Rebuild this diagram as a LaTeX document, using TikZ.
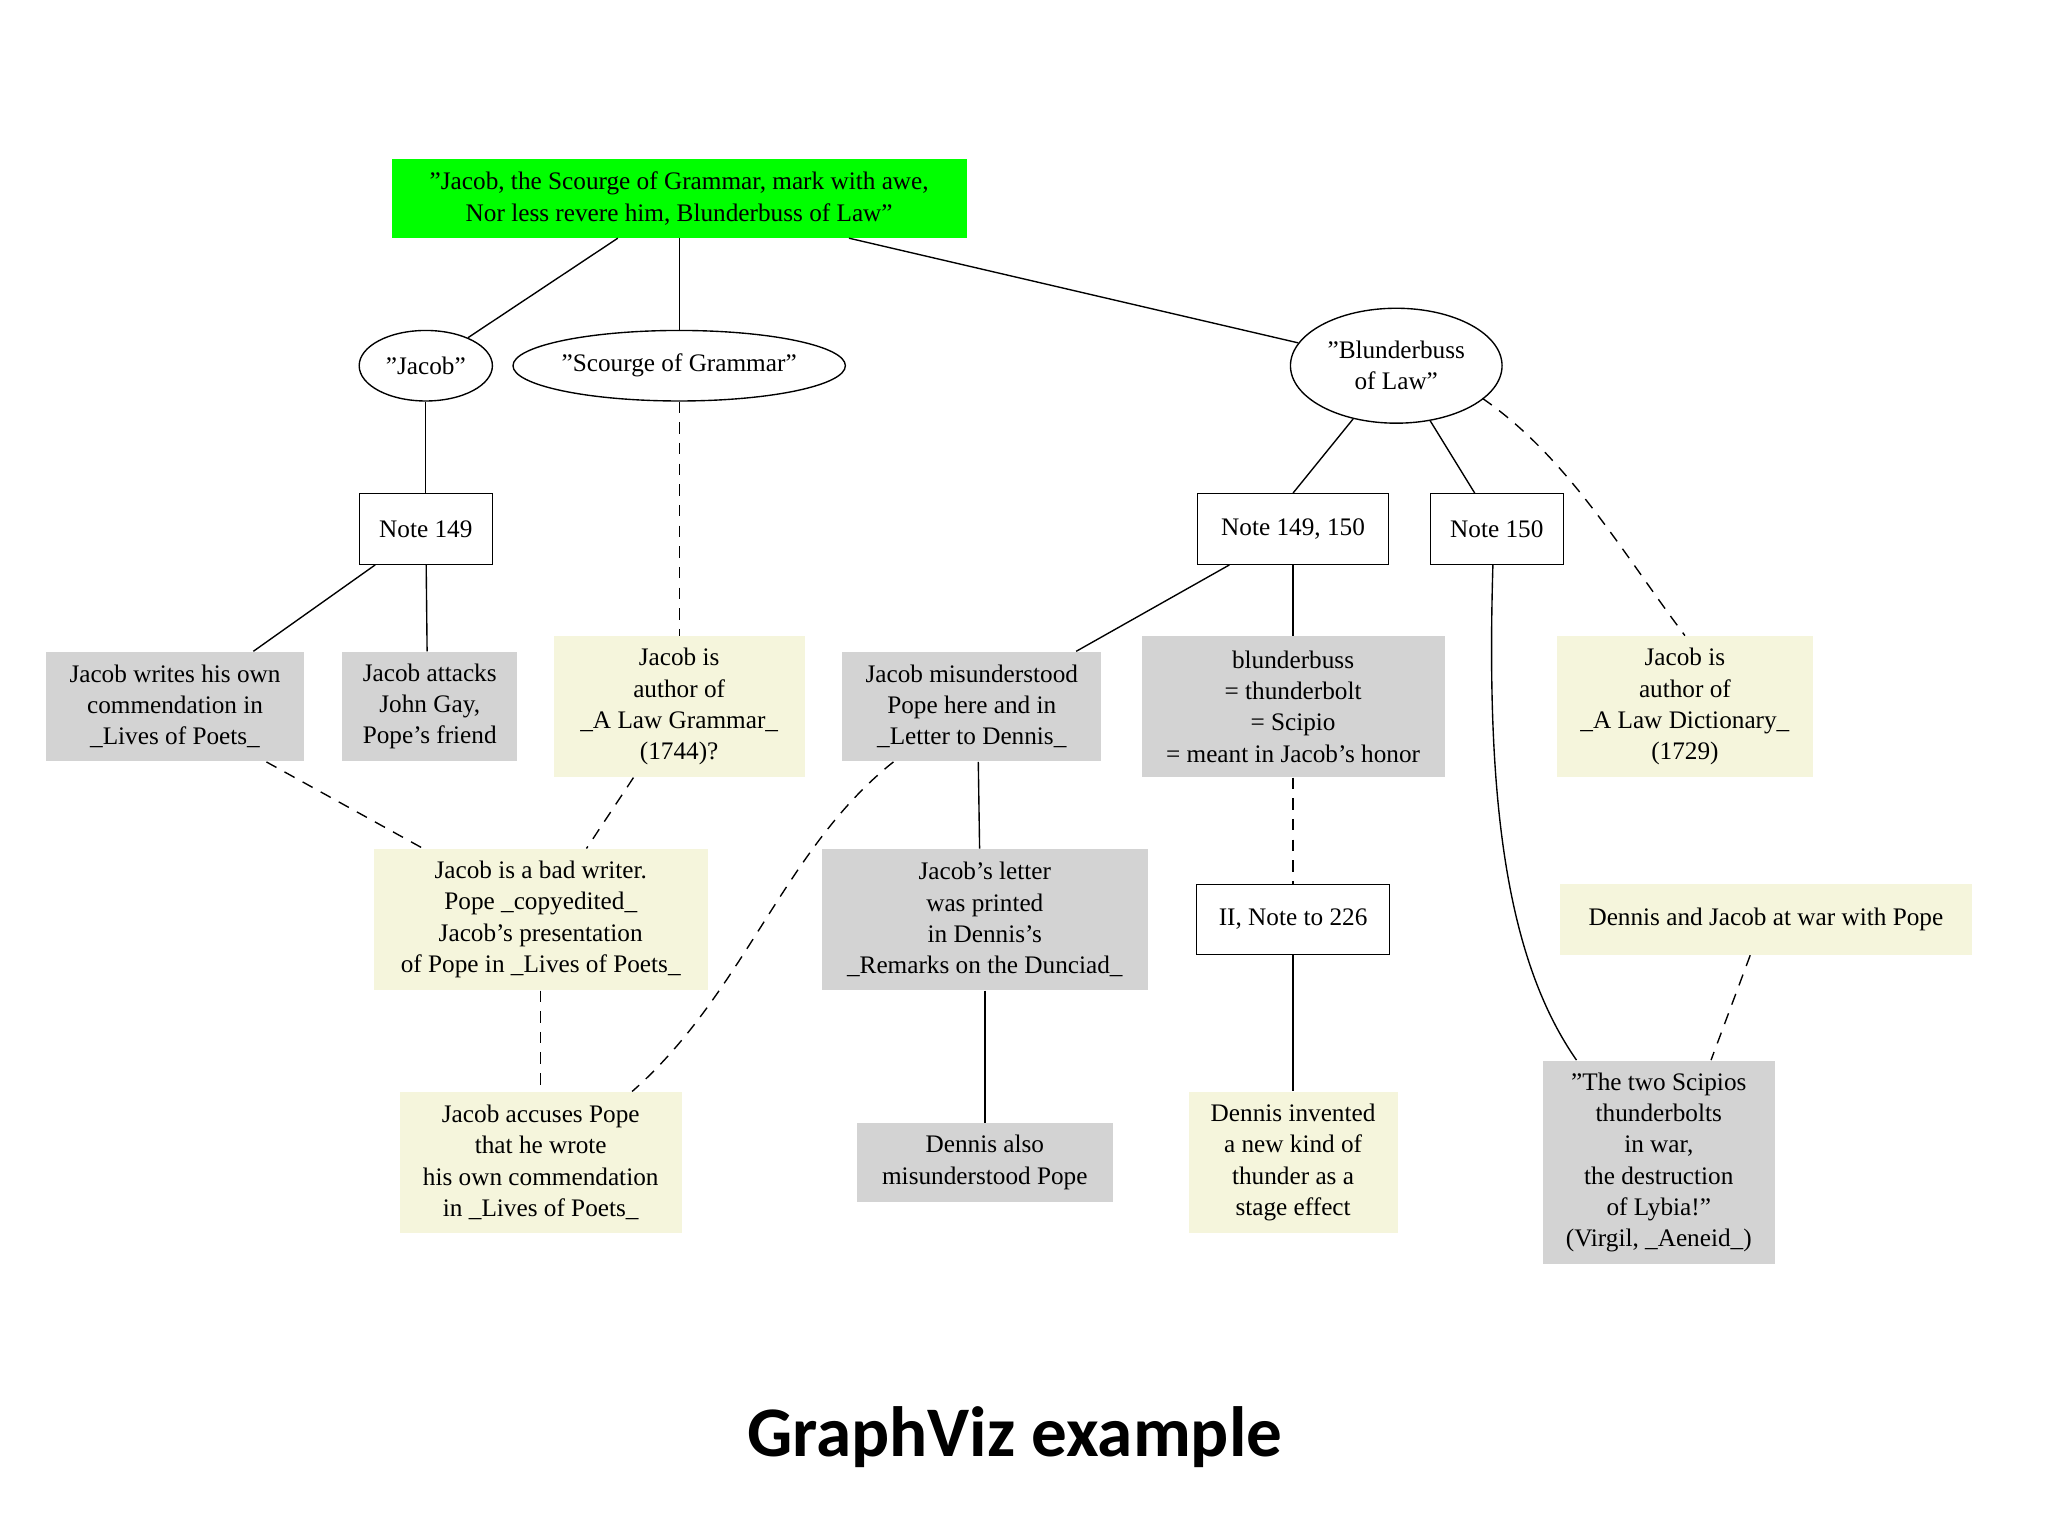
\documentclass[tikz,border=0pt]{standalone}
\usepackage{fontspec}
\setmainfont{Liberation Serif}
\newfontfamily\titlefont{Carlito}
\usetikzlibrary{shapes.geometric}
\definecolor{gvyel}{HTML}{F5F5DC}
\definecolor{gvgray}{HTML}{D3D3D3}
\tikzset{
 every node/.style={font=\fontsize{11}{13.6}\selectfont, align=center, inner sep=0pt},
 box/.style={rectangle, draw=black, line width=0.6pt, fill=white},
 yel/.style={rectangle, fill=gvyel},
 gry/.style={rectangle, fill=gvgray},
 ell/.style={ellipse, draw=black, line width=0.6pt},
 e/.style={line width=0.6pt},
 d/.style={line width=0.6pt, dashed, dash pattern=on 5pt off 4pt},
 sz/.style 2 args={minimum width=#1*0.02cm, minimum height=#2*0.02cm},
}
\begin{document}
\begin{tikzpicture}[x=0.02cm,y=-0.02cm]
\useasboundingbox (0,0) rectangle (1568,1176);
\fill[white] (0,0) rectangle (1568,1176);
\node[rectangle, fill=green, sz={440}{60}] (top) at (520,152) {"Jacob, the Scourge of Grammar, mark with awe,\\Nor less revere him, Blunderbuss of Law"};
\node[ell, sz={102}{54}] (jacob) at (326,280) {"Jacob"};
\node[ell, sz={234}{54}] (scourge) at (520,280) {"Scourge of Grammar"};
\node[ell, sz={162}{88}] (blunder) at (1069,280) {"Blunderbuss\\of Law"};
\node[box, sz={102}{54}] (n149) at (326,405) {Note 149};
\node[box, sz={146}{54}] (n149150) at (990,405) {Note 149, 150};
\node[box, sz={102}{54}] (n150) at (1146,405) {Note 150};
\node[gry, sz={198}{84}] (jwrites) at (134,541) {Jacob writes his own\\commendation in\\\_Lives of Poets\_};
\node[gry, sz={134}{84}] (jattacks) at (329,541) {Jacob attacks\\John Gay,\\Pope's friend};
\node[yel, sz={192}{108}] (ja1) at (520,541) {Jacob is\\author of\\\_A Law Grammar\_\\(1744)?};
\node[gry, sz={198}{84}] (jmis) at (744,541) {Jacob misunderstood\\Pope here and in\\\_Letter to Dennis\_};
\node[gry, sz={232}{108}] (bb) at (990,541) {blunderbuss\\= thunderbolt\\= Scipio\\= meant in Jacob's honor};
\node[yel, sz={196}{108}] (ja2) at (1290,541) {Jacob is\\author of\\\_A Law Dictionary\_\\(1729)};
\node[yel, sz={256}{108}] (bad) at (414,704) {Jacob is a bad writer.\\Pope \_copyedited\_\\Jacob's presentation\\of Pope in \_Lives of Poets\_};
\node[gry, sz={250}{108}] (jlet) at (754,704) {Jacob's letter\\was printed\\in Dennis's\\\_Remarks on the Dunciad\_};
\node[box, sz={148}{54}] (n226) at (990,704) {II, Note to 226};
\node[yel, sz={316}{54}] (dj) at (1352,704) {Dennis and Jacob at war with Pope};
\node[yel, sz={216}{108}] (jacc) at (414,890) {Jacob accuses Pope\\that he wrote\\his own commendation\\in \_Lives of Poets\_};
\node[gry, sz={196}{60}] (dalso) at (754,890) {Dennis also\\misunderstood Pope};
\node[yel, sz={160}{108}] (dinv) at (990,890) {Dennis invented\\a new kind of\\thunder as a\\stage effect};
\node[gry, sz={178}{156}] (sc) at (1270,890) {"The two Scipios\\thunderbolts\\in war,\\the destruction\\of Lybia!"\\(Virgil, \_Aeneid\_)};
\node[font=\titlefont\bfseries\fontsize{31}{36}\selectfont] (title) at (777,1100) {GraphViz example};

\draw[e] ([xshift=-0.94cm]top.south) -- (jacob);
\draw[e] (top) -- (scourge);
\draw[e] ([xshift=2.6cm]top.south) -- (blunder);
\draw[e] (jacob) -- (n149);
\draw[d] (scourge) -- (ja1);
\draw[e] (blunder) -- (n149150.north);
\draw[e] (blunder) -- (n150);
\draw[d] (1135,305) .. controls (1200,350) and (1240,420) .. (ja2.north);
\draw[e] (n149) -- ([xshift=1.2cm]jwrites.north);
\draw[e] (n149) -- ([xshift=-0.04cm]jattacks.north);
\draw[e] (n149150) -- ([xshift=1.6cm]jmis.north);
\draw[e] (n149150) -- (bb);
\draw[d] ([xshift=1.4cm]jwrites.south) -- ([xshift=-1.8cm]bad.north);
\draw[d] ([xshift=-0.7cm]ja1.south) -- ([xshift=0.7cm]bad.north);
\draw[d] (bad) -- (jacc);
\draw[d] ([xshift=-1.2cm]jmis.south) .. controls (600,650) and (570,760) .. ([xshift=1.4cm]jacc.north);
\draw[e] ([xshift=0.1cm]jmis.south) -- ([xshift=-0.08cm]jlet.north);
\draw[e] (jlet) -- (dalso);
\draw[d] (bb) -- (n226);
\draw[e] (n226) -- (dinv);
\draw[e] ([xshift=-0.06cm]n150.south) .. controls (1138,600) and (1150,730) .. ([xshift=-1.26cm]sc.north);
\draw[d] ([xshift=-0.24cm]dj.south) -- ([xshift=0.8cm]sc.north);
\end{tikzpicture}
\end{document}
